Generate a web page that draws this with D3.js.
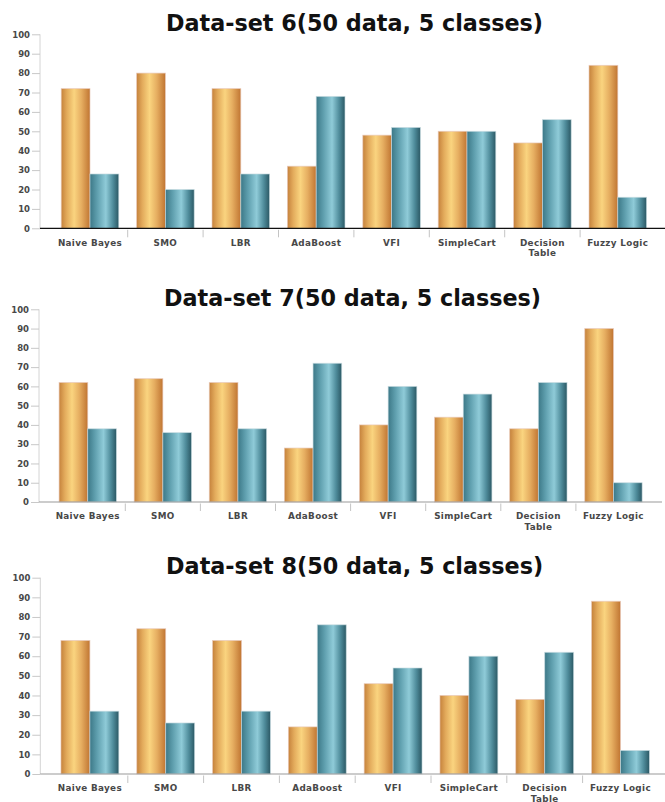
<!DOCTYPE html>
<html>
<head>
<meta charset="utf-8">
<script src="https://cdn.jsdelivr.net/npm/d3@7"></script>
<style>
  html, body { margin: 0; padding: 0; background: #fff; }
  svg { display: block; }
</style>
</head>
<body>
<svg id="chart" width="665" height="802"></svg>
<script>
// Classifier names along the x axis
const categories = ["Naive Bayes", "SMO", "LBR", "AdaBoost", "VFI", "SimpleCart", "Decision Table", "Fuzzy Logic"];

// Panel titles
const titles = [
  "Data-set 6(50 data, 5 classes)",
  "Data-set 7(50 data, 5 classes)",
  "Data-set 8(50 data, 5 classes)"
];

// Percent values per classifier (orange series, teal series)
const set6Orange = [72, 80, 72, 32, 48, 50, 44, 84];
const set6Teal   = [28, 20, 28, 68, 52, 50, 56, 16];
const set7Orange = [62, 64, 62, 28, 40, 44, 38, 90];
const set7Teal   = [38, 36, 38, 72, 60, 56, 62, 10];
const set8Orange = [68, 74, 68, 24, 46, 40, 38, 88];
const set8Teal   = [32, 26, 32, 76, 54, 60, 62, 12];

// Y axis tick values
const yTicks = [0, 10, 20, 30, 40, 50, 60, 70, 80, 90, 100];

const panels = [
  { title: titles[0], orange: set6Orange, teal: set6Teal,
    axisX: 40, y0: 228.3, y100: 34.3, bandStart: 52.3, bandEnd: 655.5, xEnd: 665, baseColor: "#111" },
  { title: titles[1], orange: set7Orange, teal: set7Teal,
    axisX: 39, y0: 502, y100: 309.3, bandStart: 50.2, bandEnd: 651, xEnd: 662, baseColor: "#9a9a9a" },
  { title: titles[2], orange: set8Orange, teal: set8Teal,
    axisX: 40.3, y0: 774, y100: 577.7, bandStart: 52, bandEnd: 658.4, xEnd: 665, baseColor: "#9a9a9a" }
];

const svg = d3.select("#chart");
const defs = svg.append("defs");

function hGradient(id, stops) {
  const g = defs.append("linearGradient").attr("id", id)
    .attr("x1", "0%").attr("x2", "100%").attr("y1", "0%").attr("y2", "0%");
  stops.forEach(([o, c]) => g.append("stop").attr("offset", o).attr("stop-color", c));
}
hGradient("gOrange", [["0%", "#c5823c"], ["20%", "#e3ab5c"], ["45%", "#fad47f"], ["70%", "#e6ae61"], ["100%", "#c07532"]]);
hGradient("gTeal",   [["0%", "#3c7887"], ["25%", "#5f9fae"], ["55%", "#8fcbd8"], ["80%", "#4f8c9b"], ["100%", "#2b5864"]]);

const fontFamily = "'DejaVu Sans', Verdana, sans-serif";

panels.forEach(p => {
  const g = svg.append("g");

  const y = d3.scaleLinear().domain([0, 100]).range([p.y0, p.y100]);
  const x0 = d3.scaleBand().domain(categories).range([p.bandStart, p.bandEnd]).padding(0);
  const x1 = d3.scaleBand().domain(["orange", "teal"]).range([0, x0.bandwidth()])
    .paddingInner(0).paddingOuter(0.31);

  // Title
  g.append("text")
    .attr("x", (p.axisX + p.xEnd) / 2 + 2)
    .attr("y", p.y100 - 3.6)
    .attr("text-anchor", "middle")
    .attr("font-family", fontFamily)
    .attr("font-weight", "bold")
    .attr("font-size", 22.3)
    .attr("fill", "#111")
    .text(p.title);

  // Y axis
  const yAxis = g.append("g")
    .attr("transform", `translate(${p.axisX},0)`)
    .call(d3.axisLeft(y).tickValues(yTicks).tickSize(8).tickPadding(2));
  yAxis.select(".domain").attr("stroke", "#d4d4d4").attr("d", `M0,${p.y100}V${p.y0}`);
  yAxis.selectAll(".tick line").attr("stroke", "#c8c8c8");
  yAxis.selectAll(".tick text")
    .attr("font-family", fontFamily)
    .attr("font-weight", "bold")
    .attr("font-size", 8.5)
    .attr("fill", "#484848");

  // Bars
  const groups = g.selectAll(".grp").data(categories).enter().append("g")
    .attr("transform", d => `translate(${x0(d)},0)`);
  groups.append("rect")
    .attr("x", x1("orange"))
    .attr("width", x1.bandwidth())
    .attr("y", (d, i) => y(p.orange[i]))
    .attr("height", (d, i) => y(0) - y(p.orange[i]))
    .attr("fill", "url(#gOrange)")
    .attr("stroke", "rgba(232,200,185,0.8)")
    .attr("stroke-width", 0.8);
  groups.append("rect")
    .attr("x", x1("teal"))
    .attr("width", x1.bandwidth())
    .attr("y", (d, i) => y(p.teal[i]))
    .attr("height", (d, i) => y(0) - y(p.teal[i]))
    .attr("fill", "url(#gTeal)")
    .attr("stroke", "rgba(200,220,225,0.8)")
    .attr("stroke-width", 0.8);

  // X axis base line
  g.append("line")
    .attr("x1", p.axisX).attr("x2", p.xEnd)
    .attr("y1", p.y0).attr("y2", p.y0)
    .attr("stroke", p.baseColor).attr("stroke-width", 1.2);

  // Category separators
  const seps = categories.slice(1).map(c => x0(c));
  g.selectAll(".sep").data(seps).enter().append("line")
    .attr("x1", d => d).attr("x2", d => d)
    .attr("y1", p.y0 + 1.5).attr("y2", p.y0 + 9)
    .attr("stroke", "#c4c4c4").attr("stroke-width", 1);

  // Category labels (wrapped when too wide for the band)
  categories.forEach(c => {
    const t = g.append("text")
      .attr("x", x0(c) + x0.bandwidth() / 2)
      .attr("y", p.y0 + 17.3)
      .attr("text-anchor", "middle")
      .attr("font-family", fontFamily)
      .attr("font-weight", "bold")
      .attr("font-size", 8.8)
      .attr("letter-spacing", 0.35)
      .attr("fill", "#484848")
      .text(c);
    if (t.node().getComputedTextLength() > 72) {
      const words = c.split(" ");
      t.text(null);
      words.forEach((w, k) => {
        t.append("tspan")
          .attr("x", x0(c) + x0.bandwidth() / 2)
          .attr("dy", k === 0 ? 0 : 10.5)
          .text(w);
      });
    }
  });
});
</script>
</body>
</html>
